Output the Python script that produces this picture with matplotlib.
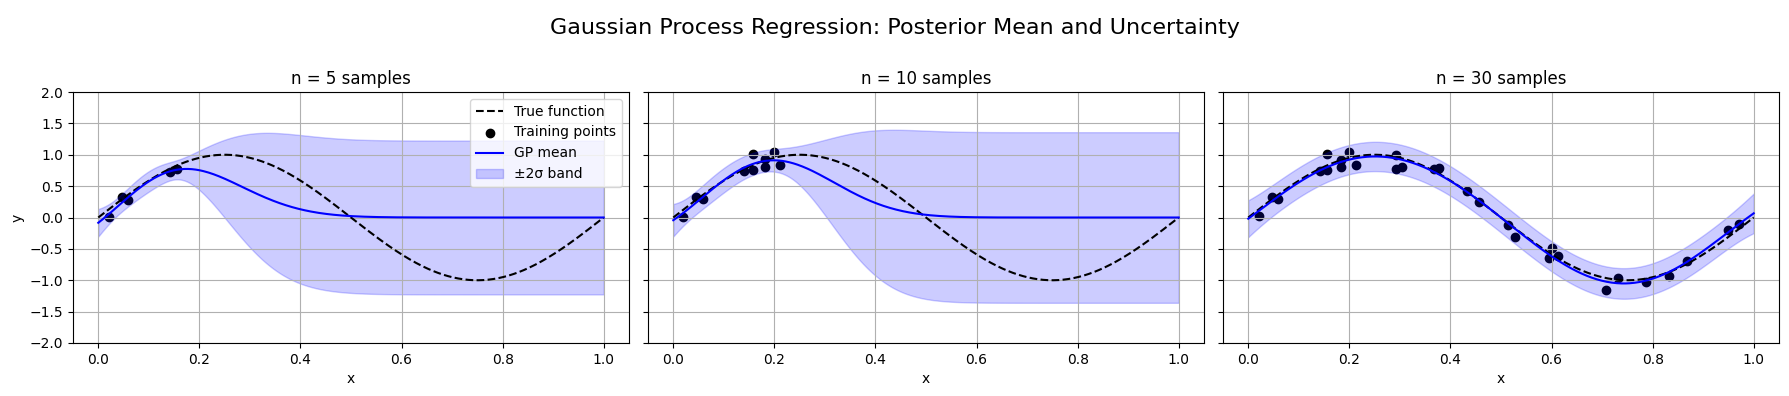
import numpy as np
import matplotlib
matplotlib.use("Agg")
import matplotlib.pyplot as plt

# Training data
x5 = [0.022, 0.046, 0.059, 0.141, 0.155]
y5 = [0.01, 0.32, 0.28, 0.73, 0.77]

x10 = [0.019, 0.045, 0.058, 0.139, 0.157, 0.157, 0.182, 0.182, 0.200, 0.212]
y10 = [0.01, 0.33, 0.29, 0.74, 0.76, 1.01, 0.80, 0.93, 1.04, 0.84]

x30 = [0.021, 0.047, 0.059, 0.141, 0.156, 0.156, 0.183, 0.184, 0.199, 0.214,
       0.293, 0.292, 0.305, 0.368, 0.377, 0.375, 0.433, 0.457, 0.514, 0.527,
       0.601, 0.594, 0.613, 0.708, 0.731, 0.786, 0.832, 0.867, 0.950, 0.971]
y30 = [0.02, 0.33, 0.29, 0.74, 0.76, 1.01, 0.92, 0.81, 1.04, 0.84,
       1.00, 0.77, 0.80, 0.77, 0.79, 0.78, 0.43, 0.25, -0.12, -0.31,
       -0.49, -0.64, -0.61, -1.15, -0.96, -1.03, -0.93, -0.69, -0.20, -0.10]

titles = ["n = 5 samples", "n = 10 samples", "n = 30 samples"]

# GP hyperparameters per panel: (signal std, length scale, noise std)
hyper = [(0.61, 0.13, 0.06), (0.675, 0.13, 0.08), (1.0, 0.25, 0.11)]


def gp_posterior(xt, yt, xs, amp, ls, noise):
    xt = np.asarray(xt); yt = np.asarray(yt)
    k = lambda a, b: amp**2 * np.exp(-0.5 * (a[:, None] - b[None, :])**2 / ls**2)
    K = k(xt, xt) + noise**2 * np.eye(len(xt))
    Ks = k(xs, xt)
    L = np.linalg.cholesky(K)
    alpha = np.linalg.solve(L.T, np.linalg.solve(L, yt))
    mu = Ks @ alpha
    v = np.linalg.solve(L, Ks.T)
    var = amp**2 + noise**2 - np.sum(v**2, axis=0)
    return mu, np.sqrt(np.maximum(var, 0))


xs = np.linspace(0, 1, 400)
true_y = np.sin(2 * np.pi * xs)

fig = plt.figure(figsize=(17.89, 3.96), dpi=100)
W, H = 556 / 1789, 251 / 396
B = 1 - 343 / 396
lefts = [73 / 1789, 648 / 1789, 1223 / 1789]
axes = []
for i, l in enumerate(lefts):
    ax = fig.add_axes([l, B, W, H], sharey=axes[0] if axes else None)
    axes.append(ax)

data = [(x5, y5), (x10, y10), (x30, y30)]
for i, ax in enumerate(axes):
    xt, yt = data[i]
    mu, sd = gp_posterior(xt, yt, xs, *hyper[i])
    ax.plot(xs, true_y, 'k--', label='True function')
    ax.scatter(xt, yt, c='black', label='Training points')
    ax.plot(xs, mu, 'b-', label='GP mean')
    ax.fill_between(xs, mu - 2 * sd, mu + 2 * sd, color='blue', alpha=0.2,
                    label='±2σ band')
    ax.set_title(titles[i])
    ax.set_xlabel('x')
    ax.set_ylim(-2, 2)
    ax.grid(True)
    if i == 0:
        ax.set_ylabel('y')
        ax.legend(loc='upper right')
    else:
        ax.tick_params(labelleft=False)

fig.suptitle('Gaussian Process Regression: Posterior Mean and Uncertainty',
             fontsize=16, y=0.955)
fig.savefig('out.png', dpi=100)
